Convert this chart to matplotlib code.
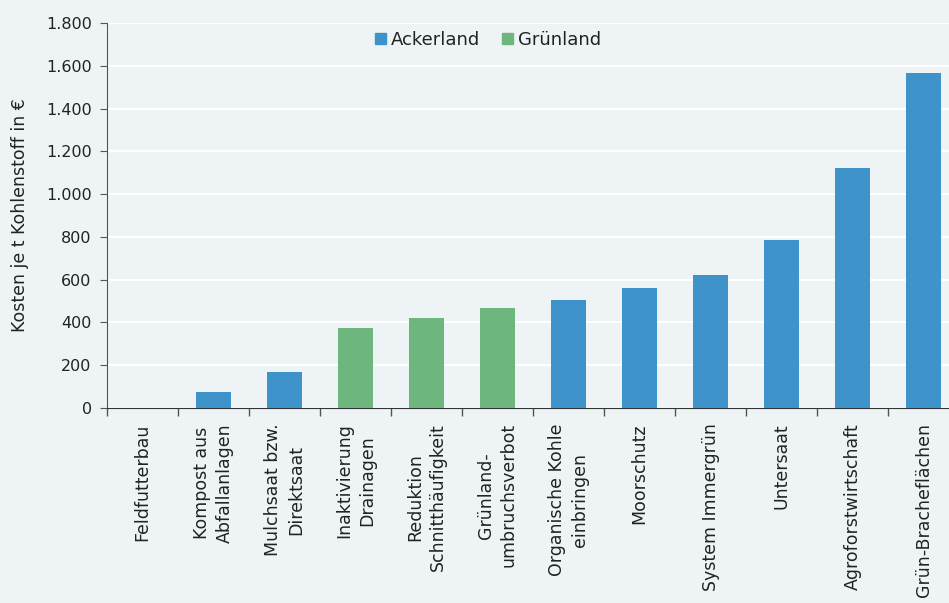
import matplotlib
matplotlib.use("Agg")
import matplotlib.pyplot as plt
from matplotlib.ticker import FuncFormatter, FixedLocator
from matplotlib.patches import Patch

categories = ["Feldfutterbau", "Kompost aus\nAbfallanlagen", "Mulchsaat bzw.\nDirektsaat",
              "Inaktivierung\nDrainagen", "Reduktion\nSchnitthäufigkeit", "Grünland-\numbruchsverbot",
              "Organische Kohle\neinbringen", "Moorschutz", "System Immergrün", "Untersaat",
              "Agroforstwirtschaft", "Grün-Bracheflächen"]
values = [0, 75, 168, 374, 421, 467, 505, 561, 622, 785, 1122, 1566]
groups = ["Ackerland", "Ackerland", "Ackerland", "Grünland", "Grünland", "Grünland",
          "Ackerland", "Ackerland", "Ackerland", "Ackerland", "Ackerland", "Ackerland"]
group_names = ["Ackerland", "Grünland"]
group_colors = {"Ackerland": "#3E94CA", "Grünland": "#6DB77E"}

plt.rcParams['font.family'] = ['DejaVu Sans']
bg = "#EEF4F5"
txt = "#222222"
fig = plt.figure(figsize=(9.49, 6.03), dpi=100, facecolor=bg)
ax = fig.add_axes([107/949, 1-408/603, 852/949, 385/603], facecolor=bg)

x = list(range(len(categories)))
ax.bar(x, values, width=0.5, color=[group_colors[g] for g in groups], zorder=3)

ax.set_xlim(-0.5, len(categories) - 0.5)
ax.set_ylim(0, 1800)
ax.set_yticks(range(0, 1801, 200))
ax.yaxis.set_major_formatter(FuncFormatter(lambda v, p: f"{int(v):,}".replace(",", ".")))
ax.grid(axis="y", color="white", linewidth=1.5, zorder=0)

ax.set_xticks(x)
ax.set_xticklabels(categories, rotation=90, ha="center", va="top", multialignment="center",
                   linespacing=1.35)
ax.tick_params(axis="x", which="major", length=0, pad=11, labelsize=12.5, colors=txt)
ax.xaxis.set_minor_locator(FixedLocator([i - 0.5 for i in range(len(categories) + 1)]))
ax.tick_params(axis="x", which="minor", length=6, color="#555555", width=1)
ax.tick_params(axis="y", length=5, color="#555555", labelsize=11.5, labelcolor=txt, pad=6)

for s in ["top", "right"]:
    ax.spines[s].set_visible(False)
ax.spines["left"].set_color("#555555")
ax.spines["bottom"].set_color("#333333")

ax.set_ylabel("Kosten je t Kohlenstoff in €", fontsize=12.5, color=txt, labelpad=12)

handles = [Patch(color=group_colors[g], label=g) for g in group_names]
leg = fig.legend(handles=handles, loc="center", bbox_to_anchor=(488/949, 1-40/603), ncol=2,
                 frameon=False, fontsize=13, handlelength=0.6, handleheight=0.6,
                 handletextpad=0.3, columnspacing=1.2)
for t in leg.get_texts():
    t.set_color(txt)

fig.savefig("out.png", dpi=100, facecolor=bg)
